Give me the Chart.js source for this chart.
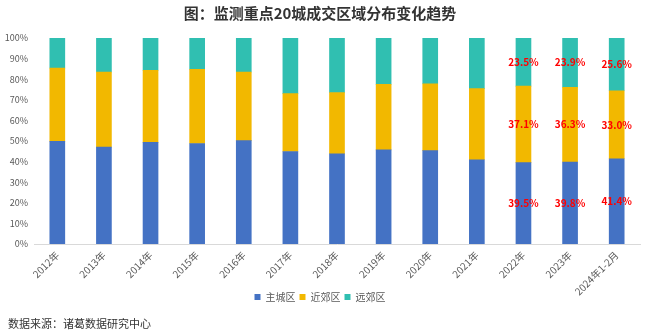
<!DOCTYPE html>
<html>
<head>
<meta charset="utf-8">
<script src="https://cdn.jsdelivr.net/npm/chart.js@4"></script>
<style>
  html, body { margin: 0; padding: 0; background: #fff; }
  #wrap { position: relative; width: 660px; height: 332px; }
  #source {
    position: absolute; left: 8px; top: 315px;
    font: 11px "Noto Sans CJK SC", sans-serif; color: #333;
  }
</style>
</head>
<body>
<div id="wrap">
  <canvas id="chart" width="660" height="332"></canvas>
  <div id="source">数据来源：诸葛数据研究中心</div>
</div>
<script>
/* Values (percent share) */
const categories = ["2012年", "2013年", "2014年", "2015年", "2016年", "2017年", "2018年",
  "2019年", "2020年", "2021年", "2022年", "2023年", "2024年1-2月"];
const mainCity = [49.8, 47.0, 49.3, 48.8, 50.2, 44.9, 43.8, 45.7, 45.3, 40.9, 39.5, 39.8, 41.4];
const nearSuburb = [35.6, 36.5, 35.0, 36.0, 33.3, 28.1, 29.7, 31.8, 32.5, 34.5, 37.1, 36.3, 33.0];
const farSuburb = [14.6, 16.5, 15.7, 15.2, 16.5, 27.0, 26.5, 22.5, 22.2, 24.6, 23.5, 23.9, 25.6];
const yTicks = [0, 10, 20, 30, 40, 50, 60, 70, 80, 90, 100];
const labelFrom = 10; // value labels only on the last three columns

const FONT = '"Noto Sans CJK SC", sans-serif';

/* draws the red value labels in the middle of each segment */
const valueLabels = {
  id: "valueLabels",
  beforeDraw(chart) {
    // let the long rotated x labels run past the axis box (they do in the original)
    chart.scales.x._computeLabelArea = () => undefined;
  },
  afterDatasetsDraw(chart) {
    const ctx = chart.ctx;
    ctx.save();
    ctx.fillStyle = "#ff0000";
    ctx.font = "bold 10px " + FONT;
    ctx.textAlign = "center";
    ctx.textBaseline = "middle";
    chart.data.datasets.forEach((ds, di) => {
      chart.getDatasetMeta(di).data.forEach((bar, i) => {
        if (i < labelFrom) return;
        const { x, y, base } = bar.getProps(["x", "y", "base"], true);
        ctx.fillText(ds.data[i].toFixed(1) + "%", x, (y + base) / 2);
      });
    });
    ctx.restore();
  }
};

new Chart(document.getElementById("chart"), {
  type: "bar",
  data: {
    labels: categories,
    datasets: [
      { label: "主城区", data: mainCity, backgroundColor: "#4472c4" },
      { label: "近郊区", data: nearSuburb, backgroundColor: "#f2b800" },
      { label: "远郊区", data: farSuburb, backgroundColor: "#30bfb1" }
    ]
  },
  options: {
    responsive: false,
    animation: false,
    layout: { padding: { left: 0, right: 20, top: 0, bottom: 20 } },
    datasets: { bar: { barThickness: 15, borderWidth: 0 } },
    plugins: {
      title: {
        display: true,
        text: "图：监测重点20城成交区域分布变化趋势",
        color: "#333",
        font: { family: FONT, size: 15, weight: "bold" },
        padding: { top: 4, bottom: 16 }
      },
      legend: {
        position: "bottom",
        labels: {
          boxWidth: 6, boxHeight: 6, padding: 4, color: "#595959",
          font: { family: FONT, size: 10 }
        }
      },
      tooltip: { enabled: false }
    },
    scales: {
      x: {
        stacked: true,
        grid: { display: false, drawTicks: false },
        border: { color: "#d9d9d9" },
        ticks: {
          color: "#595959", minRotation: 45, maxRotation: 45, padding: 5,
          font: { family: FONT, size: 10 }
        },
        afterFit(scale) { scale.height = 44; }
      },
      y: {
        stacked: true,
        min: 0, max: 100,
        grid: { display: false, drawTicks: false },
        border: { display: false },
        afterBuildTicks(scale) { scale.ticks = yTicks.map(v => ({ value: v })); },
        ticks: {
          color: "#595959", padding: 6,
          font: { family: FONT, size: 9 },
          callback: v => v + "%"
        },
        afterFit(scale) { scale.width = 34; }
      }
    }
  },
  plugins: [valueLabels]
});
</script>
</body>
</html>
